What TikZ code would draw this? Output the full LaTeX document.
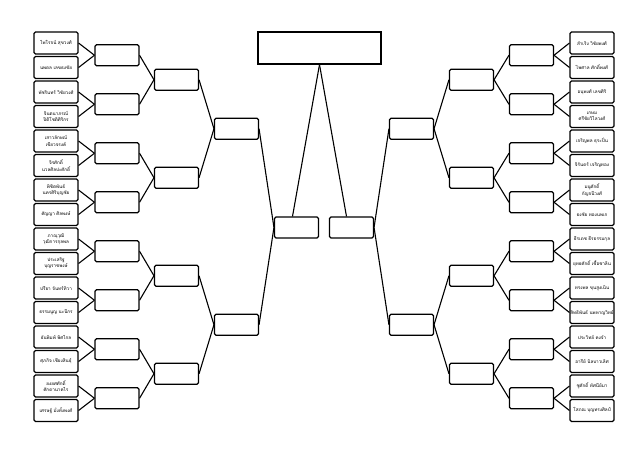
\documentclass[tikz,border=0pt]{standalone}
\usepackage{fontspec}
\newfontfamily\thaifont[Script=Thai]{Loma}
\tikzset{
  namebox/.style={draw, line width=1.1pt, rounded corners=1.5pt, minimum width=44pt, minimum height=22pt, inner sep=0pt, align=center, font=\thaifont\fontsize{4.6}{6.2}\selectfont},
  slotbox/.style={draw, line width=1.1pt, rounded corners=1.5pt, minimum width=44pt, minimum height=21pt, inner sep=0pt},
  link/.style={line width=1.1pt}
}
\begin{document}
\begin{tikzpicture}[x=1pt, y=-1pt]
\useasboundingbox (0,0) rectangle (640,448);
% left names
\draw (56,43) node[namebox] (L1) {ไพโรจน์ สุขวงศ์};
\draw (56,67.5) node[namebox] (L2) {นพดล เลขธงชัย};
\draw (56,92) node[namebox] (L3) {พัชรินทร์ วิชัยวงศ์};
\draw (56,116.5) node[namebox] (L4) {จินตนาภรณ์\\ปิติโชติศิริกร};
\draw (56,141) node[namebox] (L5) {เสาวลักษณ์\\เขียวจรงค์};
\draw (56,165.5) node[namebox] (L6) {จิรศักดิ์\\นวลศิลปะศักดิ์};
\draw (56,190) node[namebox] (L7) {พิชิตพันธ์\\นครศิริบุญชัย};
\draw (56,214.5) node[namebox] (L8) {ศัญญา ศิลพงษ์};
\draw (56,239) node[namebox] (L9) {ภาณุวุฒิ\\วุฒิการกุลพล};
\draw (56,263.5) node[namebox] (L10) {ประเสริฐ\\บุญราชพงษ์};
\draw (56,288) node[namebox] (L11) {ปรียา จันทร์ทิวา};
\draw (56,312.5) node[namebox] (L12) {ธรรมนูญ นะนีกร};
\draw (56,337) node[namebox] (L13) {ธันพิมพ์ พิศไกล};
\draw (56,361.5) node[namebox] (L14) {ศุภกิจ เชียงสินธุ์};
\draw (56,386) node[namebox] (L15) {ยงยศศักดิ์\\ศักดานาคไร};
\draw (56,410.5) node[namebox] (L16) {เศรษฐ์ มั่งทั้งพงศ์};
% right names
\draw (592,43) node[namebox] (R1) {สำเริง วิชัยพงศ์};
\draw (592,67.5) node[namebox] (R2) {ไพศาล ศักดิ์พงศ์};
\draw (592,92) node[namebox] (R3) {อนุพงศ์ เลขศิริ};
\draw (592,116.5) node[namebox] (R4) {เกษม\\ศรีชัยวิไลวงศ์};
\draw (592,141) node[namebox] (R5) {เจริญพล ธุระปิ่น};
\draw (592,165.5) node[namebox] (R6) {จิรันดร์ เจริญทอง};
\draw (592,190) node[namebox] (R7) {มนูศักดิ์\\กัญจนีวงศ์};
\draw (592,214.5) node[namebox] (R8) {ธงชัย ทองนพเก};
\draw (592,239) node[namebox] (R9) {ธีรเดช ธีรธรรมกุล};
\draw (592,263.5) node[namebox] (R10) {ยุทธศักดิ์ เชื้อชาลิน};
\draw (592,288) node[namebox] (R11) {ทรงพล ขุนสูงเนิน};
\draw (592,312.5) node[namebox] (R12) {สิทธิพันธ์ นพหาญวิทย์};
\draw (592,337) node[namebox] (R13) {ประวิทย์ คงจำ};
\draw (592,361.5) node[namebox] (R14) {อารีย์ นิลบาวเลิศ};
\draw (592,386) node[namebox] (R15) {ชูศักดิ์ ทัศนีย์มา};
\draw (592,410.5) node[namebox] (R16) {โสภณ บุญทรงศิลป์};
% left rounds
\draw (117,55.25) node[slotbox] (LA1) {};
\draw (117,104.25) node[slotbox] (LA2) {};
\draw (117,153.25) node[slotbox] (LA3) {};
\draw (117,202.25) node[slotbox] (LA4) {};
\draw (117,251.25) node[slotbox] (LA5) {};
\draw (117,300.25) node[slotbox] (LA6) {};
\draw (117,349.25) node[slotbox] (LA7) {};
\draw (117,398.25) node[slotbox] (LA8) {};
\draw (176.5,79.75) node[slotbox] (LB1) {};
\draw (176.5,177.75) node[slotbox] (LB2) {};
\draw (176.5,275.75) node[slotbox] (LB3) {};
\draw (176.5,373.75) node[slotbox] (LB4) {};
\draw (236.5,128.75) node[slotbox] (LC1) {};
\draw (236.5,324.75) node[slotbox] (LC2) {};
\draw (296.5,227.5) node[slotbox] (LD) {};
% right rounds
\draw (531.5,55.25) node[slotbox] (RA1) {};
\draw (531.5,104.25) node[slotbox] (RA2) {};
\draw (531.5,153.25) node[slotbox] (RA3) {};
\draw (531.5,202.25) node[slotbox] (RA4) {};
\draw (531.5,251.25) node[slotbox] (RA5) {};
\draw (531.5,300.25) node[slotbox] (RA6) {};
\draw (531.5,349.25) node[slotbox] (RA7) {};
\draw (531.5,398.25) node[slotbox] (RA8) {};
\draw (471.5,79.75) node[slotbox] (RB1) {};
\draw (471.5,177.75) node[slotbox] (RB2) {};
\draw (471.5,275.75) node[slotbox] (RB3) {};
\draw (471.5,373.75) node[slotbox] (RB4) {};
\draw (411.5,128.75) node[slotbox] (RC1) {};
\draw (411.5,324.75) node[slotbox] (RC2) {};
\draw (351.5,227.5) node[slotbox] (RD) {};
% champion
\draw (319.5,48) node[draw, line width=1.1pt, minimum width=123pt, minimum height=32pt, inner sep=0pt] (W) {};
% left links
\draw[link] (L1.east) -- (LA1.west);
\draw[link] (L2.east) -- (LA1.west);
\draw[link] (L3.east) -- (LA2.west);
\draw[link] (L4.east) -- (LA2.west);
\draw[link] (L5.east) -- (LA3.west);
\draw[link] (L6.east) -- (LA3.west);
\draw[link] (L7.east) -- (LA4.west);
\draw[link] (L8.east) -- (LA4.west);
\draw[link] (L9.east) -- (LA5.west);
\draw[link] (L10.east) -- (LA5.west);
\draw[link] (L11.east) -- (LA6.west);
\draw[link] (L12.east) -- (LA6.west);
\draw[link] (L13.east) -- (LA7.west);
\draw[link] (L14.east) -- (LA7.west);
\draw[link] (L15.east) -- (LA8.west);
\draw[link] (L16.east) -- (LA8.west);
\draw[link] (LA1.east) -- (LB1.west);
\draw[link] (LA2.east) -- (LB1.west);
\draw[link] (LA3.east) -- (LB2.west);
\draw[link] (LA4.east) -- (LB2.west);
\draw[link] (LA5.east) -- (LB3.west);
\draw[link] (LA6.east) -- (LB3.west);
\draw[link] (LA7.east) -- (LB4.west);
\draw[link] (LA8.east) -- (LB4.west);
\draw[link] (LB1.east) -- (LC1.west);
\draw[link] (LB2.east) -- (LC1.west);
\draw[link] (LB3.east) -- (LC2.west);
\draw[link] (LB4.east) -- (LC2.west);
\draw[link] (LC1.east) -- (LD.west);
\draw[link] (LC2.east) -- (LD.west);
% right links
\draw[link] (R1.west) -- (RA1.east);
\draw[link] (R2.west) -- (RA1.east);
\draw[link] (R3.west) -- (RA2.east);
\draw[link] (R4.west) -- (RA2.east);
\draw[link] (R5.west) -- (RA3.east);
\draw[link] (R6.west) -- (RA3.east);
\draw[link] (R7.west) -- (RA4.east);
\draw[link] (R8.west) -- (RA4.east);
\draw[link] (R9.west) -- (RA5.east);
\draw[link] (R10.west) -- (RA5.east);
\draw[link] (R11.west) -- (RA6.east);
\draw[link] (R12.west) -- (RA6.east);
\draw[link] (R13.west) -- (RA7.east);
\draw[link] (R14.west) -- (RA7.east);
\draw[link] (R15.west) -- (RA8.east);
\draw[link] (R16.west) -- (RA8.east);
\draw[link] (RA1.west) -- (RB1.east);
\draw[link] (RA2.west) -- (RB1.east);
\draw[link] (RA3.west) -- (RB2.east);
\draw[link] (RA4.west) -- (RB2.east);
\draw[link] (RA5.west) -- (RB3.east);
\draw[link] (RA6.west) -- (RB3.east);
\draw[link] (RA7.west) -- (RB4.east);
\draw[link] (RA8.west) -- (RB4.east);
\draw[link] (RB1.west) -- (RC1.east);
\draw[link] (RB2.west) -- (RC1.east);
\draw[link] (RB3.west) -- (RC2.east);
\draw[link] (RB4.west) -- (RC2.east);
\draw[link] (RC1.west) -- (RD.east);
\draw[link] (RC2.west) -- (RD.east);
% final
\draw[link] (W.south) -- ([xshift=-4pt]LD.north);
\draw[link] (W.south) -- ([xshift=-5pt]RD.north);
\end{tikzpicture}
\end{document}
